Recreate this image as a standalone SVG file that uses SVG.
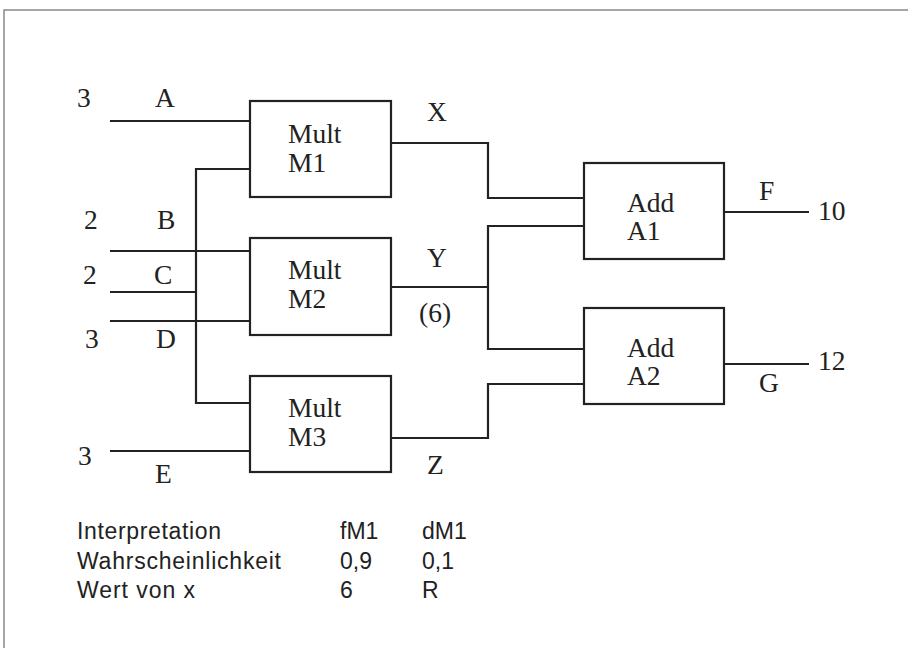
<svg xmlns="http://www.w3.org/2000/svg" width="908" height="648" viewBox="0 0 908 648">
<style>
.box{fill:#fff;stroke:#222;stroke-width:2.2}
.w{fill:none;stroke:#222;stroke-width:2.2}
.t{font-family:"Liberation Serif",serif;font-size:27.5px;fill:#222}
.s{font-family:"Liberation Sans",Arial,sans-serif;font-size:23px;fill:#222}
</style>
<rect width="908" height="648" fill="#fff"/>
<path d="M4,648 V10 H908" fill="none" stroke="#888" stroke-width="1.5"/>
<g id="connectors">
<path class="w" d="M110,121 H250"/>
<path class="w" d="M250,169 H196 V403 H250"/>
<path class="w" d="M110,251 H250"/>
<path class="w" d="M110,292 H196"/>
<path class="w" d="M110,321 H250"/>
<path class="w" d="M110,451 H250"/>
<path class="w" d="M391,143 H488 V198 H584"/>
<path class="w" d="M584,226 H488 V349 H584"/>
<path class="w" d="M391,287 H488"/>
<path class="w" d="M391,438 H488 V384 H584"/>
<path class="w" d="M724,212 H809"/>
<path class="w" d="M724,364 H809"/>
</g>
<g id="M1"><rect class="box" x="250" y="101" width="141" height="96"/><text class="t" x="288" y="143">Mult</text><text class="t" x="288" y="172">M1</text></g>
<g id="M2"><rect class="box" x="250" y="238" width="141" height="97"/><text class="t" x="288" y="279">Mult</text><text class="t" x="288" y="308">M2</text></g>
<g id="M3"><rect class="box" x="250" y="376" width="141" height="96"/><text class="t" x="288" y="417">Mult</text><text class="t" x="288" y="446">M3</text></g>
<g id="A1"><rect class="box" x="584" y="163" width="140" height="96"/><text class="t" x="627" y="212">Add</text><text class="t" x="627" y="240">A1</text></g>
<g id="A2"><rect class="box" x="584" y="308" width="140" height="96"/><text class="t" x="627" y="357">Add</text><text class="t" x="627" y="385">A2</text></g>
<g id="labels">
<text class="t" x="77" y="107">3</text>
<text class="t" x="155" y="107">A</text>
<text class="t" x="84" y="229">2</text>
<text class="t" x="157" y="229">B</text>
<text class="t" x="83" y="284">2</text>
<text class="t" x="154" y="284">C</text>
<text class="t" x="85" y="348">3</text>
<text class="t" x="156" y="348">D</text>
<text class="t" x="78" y="465">3</text>
<text class="t" x="155" y="483">E</text>
<text class="t" x="427" y="121">X</text>
<text class="t" x="427" y="267">Y</text>
<text class="t" x="419" y="322">(6)</text>
<text class="t" x="427" y="474">Z</text>
<text class="t" x="759" y="200">F</text>
<text class="t" x="818" y="220">10</text>
<text class="t" x="759" y="392">G</text>
<text class="t" x="818" y="370">12</text>
</g>
<g id="table">
<text class="s" x="77" y="539" textLength="144" lengthAdjust="spacing">Interpretation</text>
<text class="s" x="77" y="569" textLength="204" lengthAdjust="spacing">Wahrscheinlichkeit</text>
<text class="s" x="77" y="598" textLength="118" lengthAdjust="spacing">Wert von x</text>
<text class="s" x="340" y="539">fM1</text>
<text class="s" x="340" y="569">0,9</text>
<text class="s" x="340" y="598">6</text>
<text class="s" x="422" y="539">dM1</text>
<text class="s" x="422" y="569">0,1</text>
<text class="s" x="422" y="598">R</text>
</g>
</svg>
